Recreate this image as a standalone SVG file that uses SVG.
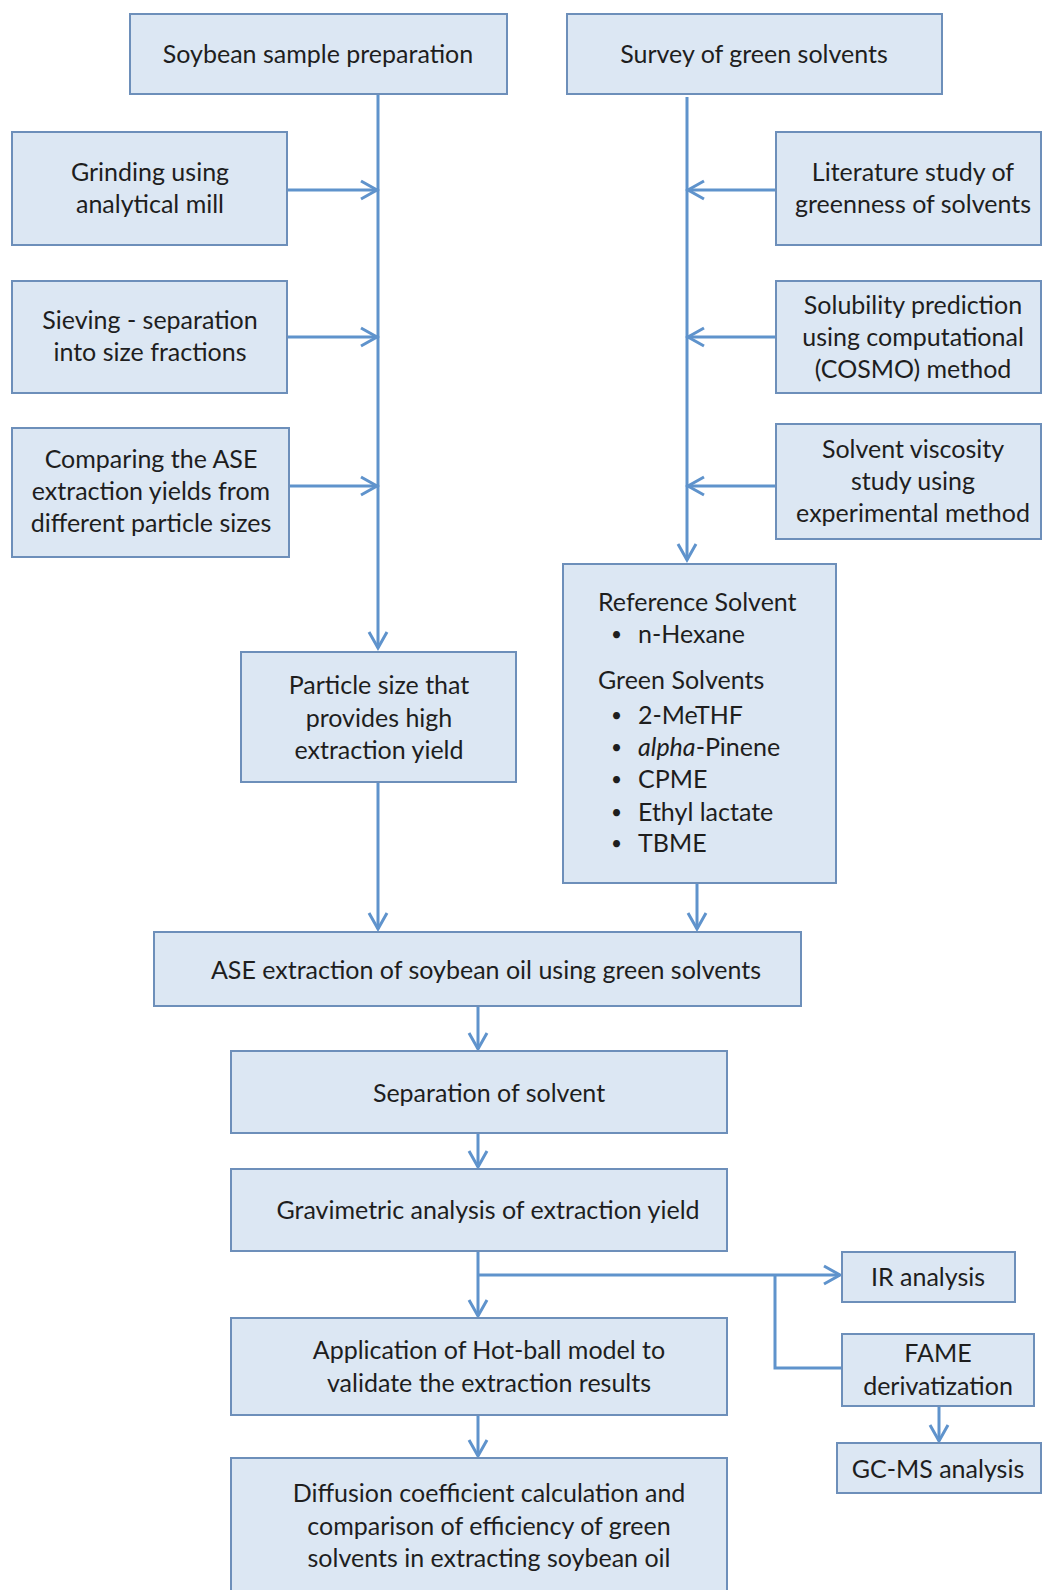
<svg xmlns="http://www.w3.org/2000/svg" width="1042" height="1590" viewBox="0 0 1042 1590">
<defs>
<style>
.box{fill:#dce7f3;stroke:#6d8fba;stroke-width:2}
.t{font-family:Lato,"Liberation Sans",sans-serif;font-size:25px;fill:#1e1e1e;text-anchor:middle}
.l{text-anchor:start}
.b{font-size:19px}
.c{fill:none;stroke:#5f93cc;stroke-width:3}
</style>
<marker id="a" markerWidth="22" markerHeight="22" refX="18" refY="11" orient="auto" markerUnits="userSpaceOnUse"><path d="M2,2 L18,11 L2,20" fill="none" stroke="#5f93cc" stroke-width="3"/></marker>
</defs>
<rect width="1042" height="1590" fill="#fff"/>
<g id="connectors">
<path class="c" d="M378,94 V648" marker-end="url(#a)"/>
<path class="c" d="M287,190 H377" marker-end="url(#a)"/>
<path class="c" d="M287,337 H377" marker-end="url(#a)"/>
<path class="c" d="M289,486 H377" marker-end="url(#a)"/>
<path class="c" d="M687,97 V560" marker-end="url(#a)"/>
<path class="c" d="M776,190 H688" marker-end="url(#a)"/>
<path class="c" d="M776,337 H688" marker-end="url(#a)"/>
<path class="c" d="M776,486 H688" marker-end="url(#a)"/>
<path class="c" d="M378,782 V929" marker-end="url(#a)"/>
<path class="c" d="M697,883 V929" marker-end="url(#a)"/>
<path class="c" d="M478,1006 V1049" marker-end="url(#a)"/>
<path class="c" d="M478,1133 V1167" marker-end="url(#a)"/>
<path class="c" d="M478,1251 V1316" marker-end="url(#a)"/>
<path class="c" d="M478,1275 H840" marker-end="url(#a)"/>
<path class="c" d="M775,1275 V1368 H842"/>
<path class="c" d="M939,1406 V1441" marker-end="url(#a)"/>
<path class="c" d="M478,1415 V1456" marker-end="url(#a)"/>
</g>
<g id="soybean"><rect class="box" x="130" y="14" width="377" height="80"/><text class="t" x="318" y="63">Soybean  sample preparation</text></g>
<g id="survey"><rect class="box" x="567" y="14" width="375" height="80"/><text class="t" x="754" y="63">Survey  of green solvents</text></g>
<g id="grinding"><rect class="box" x="12" y="132" width="275" height="113"/><text class="t" x="150" y="181">Grinding using</text><text class="t" x="150" y="213">analytical mill</text></g>
<g id="sieving"><rect class="box" x="12" y="281" width="275" height="112"/><text class="t" x="150" y="329">Sieving - separation</text><text class="t" x="150" y="361">into size fractions</text></g>
<g id="comparing"><rect class="box" x="12" y="428" width="277" height="129"/><text class="t" x="151" y="468">Comparing the ASE</text><text class="t" x="151" y="500">extraction yields from</text><text class="t" x="151" y="532">different particle sizes</text></g>
<g id="literature"><rect class="box" x="776" y="132" width="265" height="113"/><text class="t" x="913" y="181">Literature study of</text><text class="t" x="913" y="213">greenness of solvents</text></g>
<g id="solubility"><rect class="box" x="776" y="281" width="265" height="112"/><text class="t" x="913" y="314">Solubility prediction</text><text class="t" x="913" y="346">using computational</text><text class="t" x="913" y="378">(COSMO) method</text></g>
<g id="viscosity"><rect class="box" x="776" y="424" width="265" height="115"/><text class="t" x="913" y="458">Solvent viscosity</text><text class="t" x="913" y="490">study using</text><text class="t" x="913" y="522">experimental method</text></g>
<g id="solvents"><rect class="box" x="563" y="564" width="273" height="319"/>
<text class="t l" x="598" y="611">Reference Solvent</text>
<text class="t l b" x="611" y="641">•</text><text class="t l" x="638" y="643">n-Hexane</text>
<text class="t l" x="598" y="689">Green Solvents</text>
<text class="t l b" x="611" y="722">•</text><text class="t l" x="638" y="724">2-MeTHF</text>
<text class="t l b" x="611" y="754">•</text><text class="t l" x="638" y="756"><tspan font-style="italic">alpha</tspan>-Pinene</text>
<text class="t l b" x="611" y="786">•</text><text class="t l" x="638" y="788">CPME</text>
<text class="t l b" x="611" y="819">•</text><text class="t l" x="638" y="821">Ethyl lactate</text>
<text class="t l b" x="611" y="850">•</text><text class="t l" x="638" y="852">TBME</text>
</g>
<g id="particle"><rect class="box" x="241" y="652" width="275" height="130"/><text class="t" x="379" y="694">Particle size that</text><text class="t" x="379" y="727">provides high</text><text class="t" x="379" y="759">extraction yield</text></g>
<g id="ase"><rect class="box" x="154" y="932" width="647" height="74"/><text class="t" x="486" y="979">ASE extraction of soybean oil using green solvents</text></g>
<g id="separation"><rect class="box" x="231" y="1051" width="496" height="82"/><text class="t" x="489" y="1102">Separation of solvent</text></g>
<g id="gravimetric"><rect class="box" x="231" y="1169" width="496" height="82"/><text class="t" x="488" y="1219">Gravimetric analysis of extraction yield</text></g>
<g id="ir"><rect class="box" x="842" y="1252" width="173" height="50"/><text class="t" x="928" y="1286">IR analysis</text></g>
<g id="fame"><rect class="box" x="842" y="1334" width="192" height="72"/><text class="t" x="938" y="1362">FAME</text><text class="t" x="938" y="1395">derivatization</text></g>
<g id="gcms"><rect class="box" x="837" y="1443" width="204" height="50"/><text class="t" x="938" y="1478">GC-MS analysis</text></g>
<g id="application"><rect class="box" x="231" y="1318" width="496" height="97"/><text class="t" x="489" y="1359">Application of Hot-ball model to</text><text class="t" x="489" y="1392">validate the extraction results</text></g>
<g id="diffusion"><rect class="box" x="231" y="1458" width="496" height="140"/><text class="t" x="489" y="1502">Diffusion coefficient calculation and</text><text class="t" x="489" y="1535">comparison  of efficiency of green</text><text class="t" x="489" y="1567">solvents in extracting soybean oil</text></g>
</svg>
